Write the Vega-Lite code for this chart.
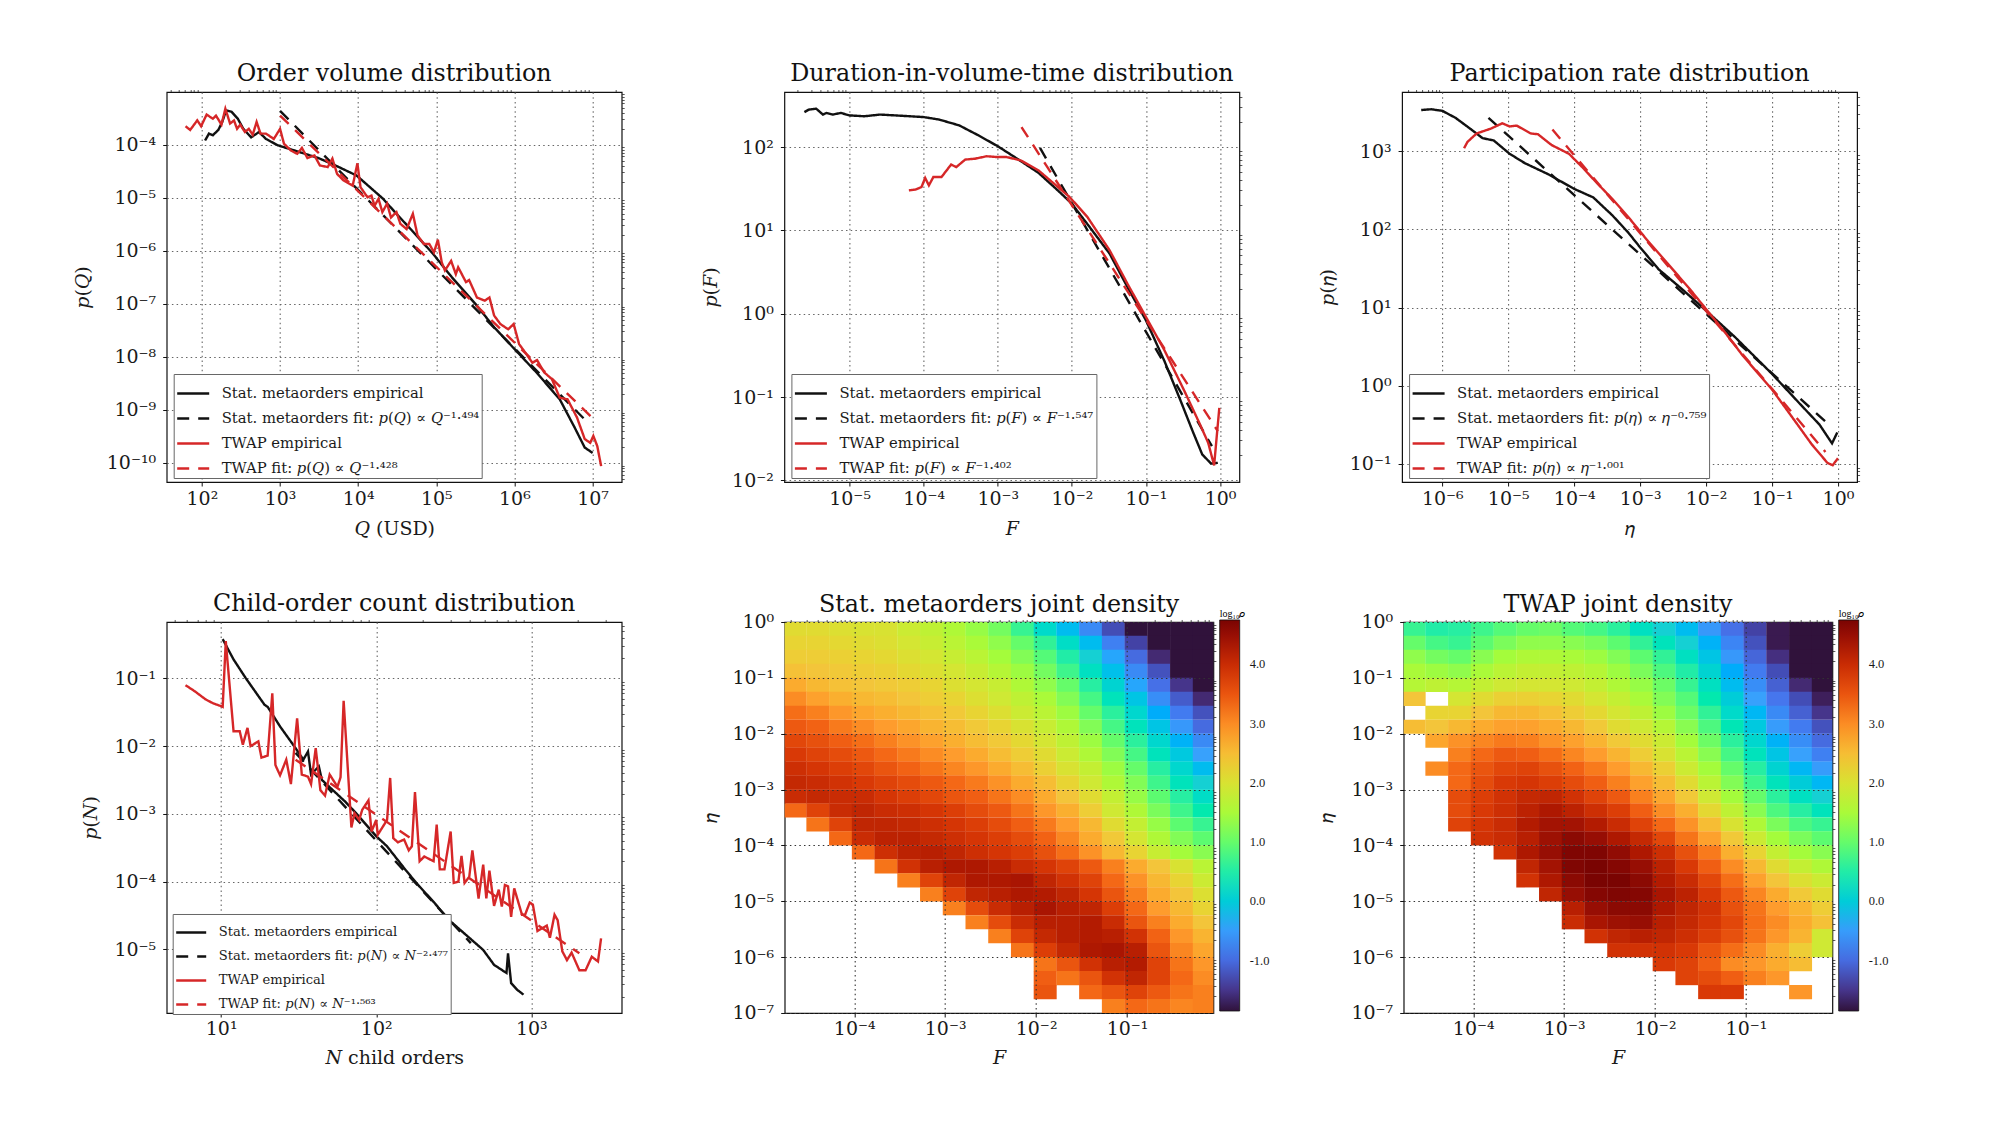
{
"$schema":"https://vega.github.io/schema/vega-lite/v6.json",
"autosize":"none",
"background":"white",
"padding":{"left":166.7,"top":92,"right":1823,"bottom":1048},
"config":{
"view":{"stroke":"#111","strokeWidth":1.2},
"title":{"font":"DejaVu Serif","fontSize":23.8,"fontWeight":"normal","offset":3.5,"color":"#111"},
"axis":{"labelFont":"DejaVu Serif","labelFontSize":19,"labelColor":"#1a1a1a","titleFont":"DejaVu Serif","titleFontSize":19,"titleFontWeight":"normal","titleColor":"#1a1a1a","domain":false,"tickColor":"#111","tickSize":4,"tickWidth":1,"labelFlush":false,"labelBound":false,"gridColor":"#666","gridDash":[1.5,3.2],"gridWidth":1.1},
"axisX":{"titleBaseline":"alphabetic","labelPadding":3},
"axisY":{"titleBaseline":"middle","labelPadding":7},
"legend":{"fillColor":"white","strokeColor":"#666","padding":2,"rowPadding":-0.5,"symbolType":"stroke","symbolSize":1024,"symbolStrokeWidth":2.6,"labelFont":"DejaVu Serif","labelFontSize":14.8,"labelColor":"#1a1a1a","labelLimit":400,"labelOffset":11,"zindex":1}
},
"bounds":"flush",
"spacing":530,
"resolve":{"scale":{"color":"independent","strokeDash":"independent"}},
"vconcat":[
{"bounds":"flush","spacing":162.7,"resolve":{"scale":{"color":"independent","strokeDash":"independent"}},"hconcat":[
{"width":455,"height":390,"title":"Order volume distribution","resolve":{"axis":{"x":"independent","y":"independent"}},"layer":[
{"data":{"values":[
{"s":"SE","x":2.04,"y":-3.92},{"s":"SE","x":2.09,"y":-3.79},{"s":"SE","x":2.14,"y":-3.82},{"s":"SE","x":2.21,"y":-3.72},{"s":"SE","x":2.26,"y":-3.57},{"s":"SE","x":2.31,"y":-3.35},{"s":"SE","x":2.38,"y":-3.38},{"s":"SE","x":2.46,"y":-3.51},{"s":"SE","x":2.53,"y":-3.7},{"s":"SE","x":2.63,"y":-3.86},{"s":"SE","x":2.73,"y":-3.76},{"s":"SE","x":2.82,"y":-3.89},{"s":"SE","x":2.97,"y":-4.01},{"s":"SE","x":3.19,"y":-4.11},{"s":"SE","x":3.49,"y":-4.25},{"s":"SE","x":3.68,"y":-4.37},{"s":"SE","x":3.98,"y":-4.58},{"s":"SE","x":4.15,"y":-4.8},{"s":"SE","x":4.32,"y":-5.02},{"s":"SE","x":4.47,"y":-5.27},{"s":"SE","x":4.69,"y":-5.62},{"s":"SE","x":4.96,"y":-6.06},{"s":"SE","x":5.2,"y":-6.5},{"s":"SE","x":5.5,"y":-7},{"s":"SE","x":5.74,"y":-7.44},{"s":"SE","x":6,"y":-7.85},{"s":"SE","x":6.28,"y":-8.29},{"s":"SE","x":6.58,"y":-8.8},{"s":"SE","x":6.77,"y":-9.33},{"s":"SE","x":6.9,"y":-9.71},{"s":"SE","x":7,"y":-9.81},
{"s":"SF","x":3,"y":-3.36},{"s":"SF","x":6.92,"y":-9.21},
{"s":"TE","x":1.79,"y":-3.65},{"s":"TE","x":1.85,"y":-3.72},{"s":"TE","x":1.94,"y":-3.54},{"s":"TE","x":1.99,"y":-3.65},{"s":"TE","x":2.06,"y":-3.43},{"s":"TE","x":2.14,"y":-3.51},{"s":"TE","x":2.18,"y":-3.45},{"s":"TE","x":2.25,"y":-3.62},{"s":"TE","x":2.3,"y":-3.32},{"s":"TE","x":2.36,"y":-3.6},{"s":"TE","x":2.41,"y":-3.54},{"s":"TE","x":2.45,"y":-3.7},{"s":"TE","x":2.49,"y":-3.62},{"s":"TE","x":2.55,"y":-3.76},{"s":"TE","x":2.6,"y":-3.7},{"s":"TE","x":2.65,"y":-3.81},{"s":"TE","x":2.7,"y":-3.57},{"s":"TE","x":2.75,"y":-3.79},{"s":"TE","x":2.82,"y":-3.79},{"s":"TE","x":2.92,"y":-3.89},{"s":"TE","x":3,"y":-3.7},{"s":"TE","x":3.05,"y":-3.98},{"s":"TE","x":3.14,"y":-4.11},{"s":"TE","x":3.22,"y":-4.17},{"s":"TE","x":3.28,"y":-4.06},{"s":"TE","x":3.35,"y":-4.25},{"s":"TE","x":3.44,"y":-4.2},{"s":"TE","x":3.51,"y":-4.39},{"s":"TE","x":3.61,"y":-4.42},{"s":"TE","x":3.67,"y":-4.26},{"s":"TE","x":3.73,"y":-4.55},{"s":"TE","x":3.81,"y":-4.67},{"s":"TE","x":3.93,"y":-4.77},{"s":"TE","x":3.99,"y":-4.35},{"s":"TE","x":4.03,"y":-4.8},{"s":"TE","x":4.12,"y":-4.99},{"s":"TE","x":4.17,"y":-4.96},{"s":"TE","x":4.21,"y":-5.15},{"s":"TE","x":4.26,"y":-5.02},{"s":"TE","x":4.31,"y":-5.27},{"s":"TE","x":4.37,"y":-5.11},{"s":"TE","x":4.42,"y":-5.37},{"s":"TE","x":4.49,"y":-5.27},{"s":"TE","x":4.54,"y":-5.49},{"s":"TE","x":4.62,"y":-5.59},{"s":"TE","x":4.7,"y":-5.3},{"s":"TE","x":4.76,"y":-5.71},{"s":"TE","x":4.84,"y":-5.87},{"s":"TE","x":4.91,"y":-5.87},{"s":"TE","x":4.97,"y":-6.03},{"s":"TE","x":5.02,"y":-5.79},{"s":"TE","x":5.07,"y":-6.22},{"s":"TE","x":5.11,"y":-6.37},{"s":"TE","x":5.19,"y":-6.19},{"s":"TE","x":5.25,"y":-6.44},{"s":"TE","x":5.28,"y":-6.31},{"s":"TE","x":5.38,"y":-6.59},{"s":"TE","x":5.42,"y":-6.55},{"s":"TE","x":5.52,"y":-6.88},{"s":"TE","x":5.62,"y":-6.94},{"s":"TE","x":5.68,"y":-6.88},{"s":"TE","x":5.74,"y":-7.22},{"s":"TE","x":5.82,"y":-7.38},{"s":"TE","x":5.92,"y":-7.48},{"s":"TE","x":5.99,"y":-7.38},{"s":"TE","x":6.06,"y":-7.76},{"s":"TE","x":6.14,"y":-7.92},{"s":"TE","x":6.23,"y":-8.11},{"s":"TE","x":6.29,"y":-8.06},{"s":"TE","x":6.38,"y":-8.29},{"s":"TE","x":6.48,"y":-8.42},{"s":"TE","x":6.58,"y":-8.77},{"s":"TE","x":6.68,"y":-8.8},{"s":"TE","x":6.8,"y":-9.14},{"s":"TE","x":6.9,"y":-9.55},{"s":"TE","x":6.97,"y":-9.62},{"s":"TE","x":7.01,"y":-9.49},{"s":"TE","x":7.06,"y":-9.68},{"s":"TE","x":7.11,"y":-10.06},
{"s":"TF","x":3,"y":-3.45},{"s":"TF","x":7.04,"y":-9.21}
]},
"mark":{"type":"line","strokeWidth":2.4},
"encoding":{
"x":{"field":"x","type":"quantitative","scale":{"domain":[1.549,7.373],"nice":false,"zero":false},"axis":{"values":[2,3,4,5,6,7],"grid":true,"title":"𝑄 (USD)","titleY":52,"labelExpr":"'10' + (datum.value<0?'⁻':'') + ['⁰','¹','²','³','⁴','⁵','⁶','⁷','⁸','⁹','¹⁰'][abs(datum.value)]"}},
"y":{"field":"y","type":"quantitative","scale":{"domain":[-10.359,-3.005],"nice":false,"zero":false},"axis":{"values":[-10,-9,-8,-7,-6,-5,-4],"grid":true,"title":"𝑝(𝑄)","titleX":-84,"labelExpr":"'10' + (datum.value<0?'⁻':'') + ['⁰','¹','²','³','⁴','⁵','⁶','⁷','⁸','⁹','¹⁰'][abs(datum.value)]"}},
"color":{"field":"s","type":"nominal","scale":{"domain":["SE","SF","TE","TF"],"range":["#111111","#111111","#d62728","#d62728"]},"legend":{"title":null,"orient":"none","legendX":7,"legendY":282,"labelExpr":"{'SE':'Stat. metaorders empirical','SF':'Stat. metaorders fit: 𝑝(𝑄) ∝ 𝑄⁻¹·⁴⁹⁴','TE':'TWAP empirical','TF':'TWAP fit: 𝑝(𝑄) ∝ 𝑄⁻¹·⁴²⁸'}[datum.label]"}},
"strokeDash":{"field":"s","type":"nominal","scale":{"domain":["SE","SF","TE","TF"],"range":[[1,0],[12,9],[1,0],[12,9]]}}
}},
{"data":{"values":[{"x":3,"y":-5}]},"mark":{"type":"point","opacity":0},"encoding":{
"x":{"field":"x","type":"quantitative","axis":{"values":[1.6,1.7,1.78,1.85,1.9,1.95,2.3,2.48,2.6,2.7,2.78,2.85,2.9,2.95,3.3,3.48,3.6,3.7,3.78,3.85,3.9,3.95,4.3,4.48,4.6,4.7,4.78,4.85,4.9,4.95,5.3,5.48,5.6,5.7,5.78,5.85,5.9,5.95,6.3,6.48,6.6,6.7,6.78,6.85,6.9,6.95,7.3],"labels":false,"grid":false,"title":null,"tickSize":2.5,"tickWidth":0.7}},
"y":{"field":"y","type":"quantitative","axis":{"values":[-10.3,-10.22,-10.15,-10.1,-10.05,-9.7,-9.52,-9.4,-9.3,-9.22,-9.15,-9.1,-9.05,-8.7,-8.52,-8.4,-8.3,-8.22,-8.15,-8.1,-8.05,-7.7,-7.52,-7.4,-7.3,-7.22,-7.15,-7.1,-7.05,-6.7,-6.52,-6.4,-6.3,-6.22,-6.15,-6.1,-6.05,-5.7,-5.52,-5.4,-5.3,-5.22,-5.15,-5.1,-5.05,-4.7,-4.52,-4.4,-4.3,-4.22,-4.15,-4.1,-4.05,-3.7,-3.52,-3.4,-3.3,-3.22,-3.15,-3.1,-3.05],"labels":false,"grid":false,"title":null,"tickSize":2.5,"tickWidth":0.7}}
}}
]},
{"width":455,"height":390,"title":"Duration-in-volume-time distribution","resolve":{"axis":{"x":"independent","y":"independent"}},"layer":[
{"data":{"values":[
{"s":"SE","x":-5.61,"y":2.42},{"s":"SE","x":-5.55,"y":2.45},{"s":"SE","x":-5.45,"y":2.46},{"s":"SE","x":-5.36,"y":2.39},{"s":"SE","x":-5.31,"y":2.41},{"s":"SE","x":-5.23,"y":2.39},{"s":"SE","x":-5.12,"y":2.41},{"s":"SE","x":-5,"y":2.38},{"s":"SE","x":-4.8,"y":2.37},{"s":"SE","x":-4.59,"y":2.39},{"s":"SE","x":-4.38,"y":2.38},{"s":"SE","x":-4,"y":2.36},{"s":"SE","x":-3.79,"y":2.33},{"s":"SE","x":-3.52,"y":2.26},{"s":"SE","x":-3.26,"y":2.14},{"s":"SE","x":-3,"y":2.01},{"s":"SE","x":-2.72,"y":1.85},{"s":"SE","x":-2.45,"y":1.69},{"s":"SE","x":-2.19,"y":1.48},{"s":"SE","x":-2,"y":1.32},{"s":"SE","x":-1.76,"y":1.04},{"s":"SE","x":-1.49,"y":0.72},{"s":"SE","x":-1.25,"y":0.32},{"s":"SE","x":-1,"y":-0.08},{"s":"SE","x":-0.75,"y":-0.57},{"s":"SE","x":-0.53,"y":-1.05},{"s":"SE","x":-0.37,"y":-1.41},{"s":"SE","x":-0.24,"y":-1.69},{"s":"SE","x":-0.12,"y":-1.8},{"s":"SE","x":-0.03,"y":-1.79},
{"s":"SF","x":-2.43,"y":1.99},{"s":"SF","x":-0.11,"y":-1.59},
{"s":"TE","x":-4.2,"y":1.48},{"s":"TE","x":-4.11,"y":1.49},{"s":"TE","x":-4.03,"y":1.52},{"s":"TE","x":-3.98,"y":1.63},{"s":"TE","x":-3.93,"y":1.54},{"s":"TE","x":-3.87,"y":1.64},{"s":"TE","x":-3.76,"y":1.64},{"s":"TE","x":-3.63,"y":1.79},{"s":"TE","x":-3.56,"y":1.76},{"s":"TE","x":-3.44,"y":1.85},{"s":"TE","x":-3.31,"y":1.86},{"s":"TE","x":-3.15,"y":1.89},{"s":"TE","x":-3.01,"y":1.88},{"s":"TE","x":-2.88,"y":1.88},{"s":"TE","x":-2.69,"y":1.84},{"s":"TE","x":-2.45,"y":1.72},{"s":"TE","x":-2.24,"y":1.56},{"s":"TE","x":-2.03,"y":1.4},{"s":"TE","x":-1.79,"y":1.16},{"s":"TE","x":-1.49,"y":0.76},{"s":"TE","x":-1.25,"y":0.36},{"s":"TE","x":-1,"y":-0.04},{"s":"TE","x":-0.75,"y":-0.44},{"s":"TE","x":-0.48,"y":-0.93},{"s":"TE","x":-0.27,"y":-1.33},{"s":"TE","x":-0.16,"y":-1.55},{"s":"TE","x":-0.08,"y":-1.82},{"s":"TE","x":-0.01,"y":-1.13},
{"s":"TF","x":-2.68,"y":2.24},{"s":"TF","x":-0.03,"y":-1.41}
]},
"mark":{"type":"line","strokeWidth":2.4},
"encoding":{
"x":{"field":"x","type":"quantitative","scale":{"domain":[-5.88,0.261],"nice":false,"zero":false},"axis":{"values":[-5,-4,-3,-2,-1,0],"grid":true,"title":"𝐹","titleY":52,"labelExpr":"'10' + (datum.value<0?'⁻':'') + ['⁰','¹','²','³','⁴','⁵','⁶','⁷','⁸','⁹','¹⁰'][abs(datum.value)]"}},
"y":{"field":"y","type":"quantitative","scale":{"domain":[-2.02,2.661],"nice":false,"zero":false},"axis":{"values":[-2,-1,0,1,2],"grid":true,"title":"𝑝(𝐹)","titleX":-74,"labelExpr":"'10' + (datum.value<0?'⁻':'') + ['⁰','¹','²','³','⁴','⁵','⁶','⁷','⁸','⁹','¹⁰'][abs(datum.value)]"}},
"color":{"field":"s","type":"nominal","scale":{"domain":["SE","SF","TE","TF"],"range":["#111111","#111111","#d62728","#d62728"]},"legend":{"title":null,"orient":"none","legendX":7,"legendY":282,"labelExpr":"{'SE':'Stat. metaorders empirical','SF':'Stat. metaorders fit: 𝑝(𝐹) ∝ 𝐹⁻¹·⁵⁴⁷','TE':'TWAP empirical','TF':'TWAP fit: 𝑝(𝐹) ∝ 𝐹⁻¹·⁴⁰²'}[datum.label]"}},
"strokeDash":{"field":"s","type":"nominal","scale":{"domain":["SE","SF","TE","TF"],"range":[[1,0],[12,9],[1,0],[12,9]]}}
}},
{"data":{"values":[{"x":-3,"y":0}]},"mark":{"type":"point","opacity":0},"encoding":{
"x":{"field":"x","type":"quantitative","axis":{"values":[-5.7,-5.52,-5.4,-5.3,-5.22,-5.15,-5.1,-5.05,-4.7,-4.52,-4.4,-4.3,-4.22,-4.15,-4.1,-4.05,-3.7,-3.52,-3.4,-3.3,-3.22,-3.15,-3.1,-3.05,-2.7,-2.52,-2.4,-2.3,-2.22,-2.15,-2.1,-2.05,-1.7,-1.52,-1.4,-1.3,-1.22,-1.15,-1.1,-1.05,-0.7,-0.52,-0.4,-0.3,-0.22,-0.15,-0.1,-0.05],"labels":false,"grid":false,"title":null,"tickSize":2.5,"tickWidth":0.7}},
"y":{"field":"y","type":"quantitative","axis":{"values":[-1.7,-1.52,-1.4,-1.3,-1.22,-1.15,-1.1,-1.05,-0.7,-0.52,-0.4,-0.3,-0.22,-0.15,-0.1,-0.05,0.3,0.48,0.6,0.7,0.78,0.85,0.9,0.95,1.3,1.48,1.6,1.7,1.78,1.85,1.9,1.95,2.3,2.48,2.6],"labels":false,"grid":false,"title":null,"tickSize":2.5,"tickWidth":0.7}}
}}
]},
{"width":455,"height":390,"title":"Participation rate distribution","resolve":{"axis":{"x":"independent","y":"independent"}},"layer":[
{"data":{"values":[
{"s":"SE","x":-6.32,"y":3.53},{"s":"SE","x":-6.17,"y":3.54},{"s":"SE","x":-6,"y":3.52},{"s":"SE","x":-5.8,"y":3.43},{"s":"SE","x":-5.56,"y":3.28},{"s":"SE","x":-5.39,"y":3.17},{"s":"SE","x":-5.22,"y":3.14},{"s":"SE","x":-4.98,"y":2.97},{"s":"SE","x":-4.75,"y":2.85},{"s":"SE","x":-4.4,"y":2.71},{"s":"SE","x":-4,"y":2.52},{"s":"SE","x":-3.71,"y":2.41},{"s":"SE","x":-3.42,"y":2.18},{"s":"SE","x":-3.18,"y":1.96},{"s":"SE","x":-3,"y":1.77},{"s":"SE","x":-2.72,"y":1.49},{"s":"SE","x":-2.37,"y":1.24},{"s":"SE","x":-2,"y":0.96},{"s":"SE","x":-1.56,"y":0.62},{"s":"SE","x":-1,"y":0.15},{"s":"SE","x":-0.57,"y":-0.24},{"s":"SE","x":-0.28,"y":-0.5},{"s":"SE","x":-0.09,"y":-0.74},{"s":"SE","x":-0.01,"y":-0.6},
{"s":"SF","x":-5.3,"y":3.43},{"s":"SF","x":-0.11,"y":-0.52},
{"s":"TE","x":-5.67,"y":3.04},{"s":"TE","x":-5.62,"y":3.12},{"s":"TE","x":-5.48,"y":3.23},{"s":"TE","x":-5.27,"y":3.29},{"s":"TE","x":-5.09,"y":3.36},{"s":"TE","x":-4.98,"y":3.32},{"s":"TE","x":-4.87,"y":3.33},{"s":"TE","x":-4.66,"y":3.23},{"s":"TE","x":-4.55,"y":3.22},{"s":"TE","x":-4.34,"y":3.08},{"s":"TE","x":-4.08,"y":2.97},{"s":"TE","x":-3.88,"y":2.8},{"s":"TE","x":-3.65,"y":2.59},{"s":"TE","x":-3.42,"y":2.39},{"s":"TE","x":-3.18,"y":2.16},{"s":"TE","x":-2.89,"y":1.86},{"s":"TE","x":-2.6,"y":1.58},{"s":"TE","x":-2.25,"y":1.24},{"s":"TE","x":-2,"y":0.98},{"s":"TE","x":-1.73,"y":0.7},{"s":"TE","x":-1.44,"y":0.38},{"s":"TE","x":-1,"y":-0.05},{"s":"TE","x":-0.69,"y":-0.41},{"s":"TE","x":-0.4,"y":-0.75},{"s":"TE","x":-0.16,"y":-0.99},{"s":"TE","x":-0.08,"y":-1.02},{"s":"TE","x":0,"y":-0.93},
{"s":"TF","x":-4.33,"y":3.28},{"s":"TF","x":-0.19,"y":-0.85}
]},
"mark":{"type":"line","strokeWidth":2.4},
"encoding":{
"x":{"field":"x","type":"quantitative","scale":{"domain":[-6.61,0.29],"nice":false,"zero":false},"axis":{"values":[-6,-5,-4,-3,-2,-1,0],"grid":true,"title":"𝜂","titleY":52,"labelExpr":"'10' + (datum.value<0?'⁻':'') + ['⁰','¹','²','³','⁴','⁵','⁶','⁷','⁸','⁹','¹⁰'][abs(datum.value)]"}},
"y":{"field":"y","type":"quantitative","scale":{"domain":[-1.235,3.761],"nice":false,"zero":false},"axis":{"values":[-1,0,1,2,3],"grid":true,"title":"𝑝(𝜂)","titleX":-75,"labelExpr":"'10' + (datum.value<0?'⁻':'') + ['⁰','¹','²','³','⁴','⁵','⁶','⁷','⁸','⁹','¹⁰'][abs(datum.value)]"}},
"color":{"field":"s","type":"nominal","scale":{"domain":["SE","SF","TE","TF"],"range":["#111111","#111111","#d62728","#d62728"]},"legend":{"title":null,"orient":"none","legendX":7,"legendY":282,"labelExpr":"{'SE':'Stat. metaorders empirical','SF':'Stat. metaorders fit: 𝑝(𝜂) ∝ 𝜂⁻⁰·⁷⁵⁹','TE':'TWAP empirical','TF':'TWAP fit: 𝑝(𝜂) ∝ 𝜂⁻¹·⁰⁰¹'}[datum.label]"}},
"strokeDash":{"field":"s","type":"nominal","scale":{"domain":["SE","SF","TE","TF"],"range":[[1,0],[12,9],[1,0],[12,9]]}}
}},
{"data":{"values":[{"x":-3,"y":1}]},"mark":{"type":"point","opacity":0},"encoding":{
"x":{"field":"x","type":"quantitative","axis":{"values":[-6.52,-6.4,-6.3,-6.22,-6.15,-6.1,-6.05,-5.7,-5.52,-5.4,-5.3,-5.22,-5.15,-5.1,-5.05,-4.7,-4.52,-4.4,-4.3,-4.22,-4.15,-4.1,-4.05,-3.7,-3.52,-3.4,-3.3,-3.22,-3.15,-3.1,-3.05,-2.7,-2.52,-2.4,-2.3,-2.22,-2.15,-2.1,-2.05,-1.7,-1.52,-1.4,-1.3,-1.22,-1.15,-1.1,-1.05,-0.7,-0.52,-0.4,-0.3,-0.22,-0.15,-0.1,-0.05],"labels":false,"grid":false,"title":null,"tickSize":2.5,"tickWidth":0.7}},
"y":{"field":"y","type":"quantitative","axis":{"values":[-1.22,-1.15,-1.1,-1.05,-0.7,-0.52,-0.4,-0.3,-0.22,-0.15,-0.1,-0.05,0.3,0.48,0.6,0.7,0.78,0.85,0.9,0.95,1.3,1.48,1.6,1.7,1.78,1.85,1.9,1.95,2.3,2.48,2.6,2.7,2.78,2.85,2.9,2.95,3.3,3.48,3.6,3.7],"labels":false,"grid":false,"title":null,"tickSize":2.5,"tickWidth":0.7}}
}}
]}
]},
{"bounds":"flush","spacing":10,"resolve":{"scale":{"color":"independent","strokeDash":"independent"}},"hconcat":[
{"width":455,"height":391,"title":"Child-order count distribution","resolve":{"axis":{"x":"independent","y":"independent"}},"layer":[
{"data":{"values":[
{"s":"SE","x":1.01,"y":-0.42},{"s":"SE","x":1.08,"y":-0.72},{"s":"SE","x":1.16,"y":-1},{"s":"SE","x":1.28,"y":-1.39},{"s":"SE","x":1.3,"y":-1.42},{"s":"SE","x":1.38,"y":-1.71},{"s":"SE","x":1.48,"y":-2.03},{"s":"SE","x":1.53,"y":-2.2},{"s":"SE","x":1.56,"y":-2.08},{"s":"SE","x":1.58,"y":-2.42},{"s":"SE","x":1.63,"y":-2.3},{"s":"SE","x":1.65,"y":-2.5},{"s":"SE","x":1.8,"y":-2.82},{"s":"SE","x":1.87,"y":-2.99},{"s":"SE","x":2,"y":-3.33},{"s":"SE","x":2.07,"y":-3.48},{"s":"SE","x":2.19,"y":-3.83},{"s":"SE","x":2.27,"y":-4.05},{"s":"SE","x":2.37,"y":-4.3},{"s":"SE","x":2.47,"y":-4.57},{"s":"SE","x":2.59,"y":-4.81},{"s":"SE","x":2.69,"y":-5.01},{"s":"SE","x":2.76,"y":-5.23},{"s":"SE","x":2.84,"y":-5.35},{"s":"SE","x":2.85,"y":-5.06},{"s":"SE","x":2.87,"y":-5.5},{"s":"SE","x":2.91,"y":-5.6},{"s":"SE","x":2.95,"y":-5.67},
{"s":"SF","x":1.48,"y":-2.1},{"s":"SF","x":2.61,"y":-4.91},
{"s":"TE","x":0.77,"y":-1.1},{"s":"TE","x":0.83,"y":-1.19},{"s":"TE","x":0.9,"y":-1.31},{"s":"TE","x":0.95,"y":-1.37},{"s":"TE","x":1,"y":-1.41},{"s":"TE","x":1.01,"y":-1.42},{"s":"TE","x":1.03,"y":-0.45},{"s":"TE","x":1.08,"y":-1.78},{"s":"TE","x":1.12,"y":-1.78},{"s":"TE","x":1.14,"y":-1.98},{"s":"TE","x":1.17,"y":-1.73},{"s":"TE","x":1.19,"y":-2},{"s":"TE","x":1.24,"y":-1.93},{"s":"TE","x":1.26,"y":-2.17},{"s":"TE","x":1.3,"y":-2.14},{"s":"TE","x":1.33,"y":-1.22},{"s":"TE","x":1.35,"y":-2.28},{"s":"TE","x":1.38,"y":-2.43},{"s":"TE","x":1.42,"y":-2.2},{"s":"TE","x":1.45,"y":-2.56},{"s":"TE","x":1.49,"y":-1.59},{"s":"TE","x":1.52,"y":-2.42},{"s":"TE","x":1.56,"y":-2.45},{"s":"TE","x":1.58,"y":-2.56},{"s":"TE","x":1.61,"y":-2.03},{"s":"TE","x":1.64,"y":-2.65},{"s":"TE","x":1.67,"y":-2.73},{"s":"TE","x":1.7,"y":-2.42},{"s":"TE","x":1.75,"y":-2.6},{"s":"TE","x":1.77,"y":-2.46},{"s":"TE","x":1.79,"y":-1.33},{"s":"TE","x":1.84,"y":-3.2},{"s":"TE","x":1.86,"y":-2.99},{"s":"TE","x":1.89,"y":-3.09},{"s":"TE","x":1.91,"y":-2.94},{"s":"TE","x":1.95,"y":-2.8},{"s":"TE","x":1.97,"y":-3.26},{"s":"TE","x":2,"y":-3.09},{"s":"TE","x":2.01,"y":-3.31},{"s":"TE","x":2.07,"y":-3.09},{"s":"TE","x":2.09,"y":-2.47},{"s":"TE","x":2.11,"y":-3.36},{"s":"TE","x":2.14,"y":-3.42},{"s":"TE","x":2.18,"y":-3.38},{"s":"TE","x":2.21,"y":-3.54},{"s":"TE","x":2.23,"y":-3.48},{"s":"TE","x":2.25,"y":-2.68},{"s":"TE","x":2.28,"y":-3.7},{"s":"TE","x":2.31,"y":-3.63},{"s":"TE","x":2.37,"y":-3.7},{"s":"TE","x":2.39,"y":-3.16},{"s":"TE","x":2.41,"y":-3.82},{"s":"TE","x":2.44,"y":-3.82},{"s":"TE","x":2.48,"y":-3.26},{"s":"TE","x":2.5,"y":-4.02},{"s":"TE","x":2.53,"y":-4},{"s":"TE","x":2.55,"y":-3.62},{"s":"TE","x":2.57,"y":-4.02},{"s":"TE","x":2.6,"y":-3.93},{"s":"TE","x":2.62,"y":-3.54},{"s":"TE","x":2.66,"y":-4.25},{"s":"TE","x":2.69,"y":-3.75},{"s":"TE","x":2.71,"y":-4.25},{"s":"TE","x":2.73,"y":-3.84},{"s":"TE","x":2.76,"y":-4.36},{"s":"TE","x":2.79,"y":-4.12},{"s":"TE","x":2.81,"y":-4.37},{"s":"TE","x":2.83,"y":-4.05},{"s":"TE","x":2.85,"y":-4.07},{"s":"TE","x":2.87,"y":-4.52},{"s":"TE","x":2.89,"y":-4.1},{"s":"TE","x":2.94,"y":-4.49},{"s":"TE","x":2.96,"y":-4.49},{"s":"TE","x":2.99,"y":-4.31},{"s":"TE","x":3.01,"y":-4.34},{"s":"TE","x":3.04,"y":-4.73},{"s":"TE","x":3.1,"y":-4.65},{"s":"TE","x":3.12,"y":-4.83},{"s":"TE","x":3.15,"y":-4.49},{"s":"TE","x":3.17,"y":-4.57},{"s":"TE","x":3.2,"y":-5.03},{"s":"TE","x":3.23,"y":-5.16},{"s":"TE","x":3.26,"y":-5.05},{"s":"TE","x":3.31,"y":-5.31},{"s":"TE","x":3.35,"y":-5.31},{"s":"TE","x":3.39,"y":-5.11},{"s":"TE","x":3.43,"y":-5.18},{"s":"TE","x":3.45,"y":-4.84},
{"s":"TF","x":1.48,"y":-2.2},{"s":"TF","x":3.31,"y":-5.06}
]},
"mark":{"type":"line","strokeWidth":2.4},
"encoding":{
"x":{"field":"x","type":"quantitative","scale":{"domain":[0.649,3.583],"nice":false,"zero":false},"axis":{"values":[1,2,3],"grid":true,"title":"𝑁 child orders","titleY":51,"labelExpr":"'10' + (datum.value<0?'⁻':'') + ['⁰','¹','²','³','⁴','⁵','⁶','⁷','⁸','⁹','¹⁰'][abs(datum.value)]"}},
"y":{"field":"y","type":"quantitative","scale":{"domain":[-5.941,-0.167],"nice":false,"zero":false},"axis":{"values":[-5,-4,-3,-2,-1],"grid":true,"title":"𝑝(𝑁)","titleX":-76,"labelExpr":"'10' + (datum.value<0?'⁻':'') + ['⁰','¹','²','³','⁴','⁵','⁶','⁷','⁸','⁹','¹⁰'][abs(datum.value)]"}},
"color":{"field":"s","type":"nominal","scale":{"domain":["SE","SF","TE","TF"],"range":["#111111","#111111","#d62728","#d62728"]},"legend":{"title":null,"orient":"none","legendX":6,"legendY":292,"labelFontSize":13.1,"symbolSize":900,"rowPadding":-3,"labelExpr":"{'SE':'Stat. metaorders empirical','SF':'Stat. metaorders fit: 𝑝(𝑁) ∝ 𝑁⁻²·⁴⁷⁷','TE':'TWAP empirical','TF':'TWAP fit: 𝑝(𝑁) ∝ 𝑁⁻¹·⁵⁶³'}[datum.label]"}},
"strokeDash":{"field":"s","type":"nominal","scale":{"domain":["SE","SF","TE","TF"],"range":[[1,0],[12,9],[1,0],[12,9]]}}
}},
{"data":{"values":[{"x":2,"y":-3}]},"mark":{"type":"point","opacity":0},"encoding":{
"x":{"field":"x","type":"quantitative","axis":{"values":[0.7,0.78,0.85,0.9,0.95,1.3,1.48,1.6,1.7,1.78,1.85,1.9,1.95,2.3,2.48,2.6,2.7,2.78,2.85,2.9,2.95,3.3,3.48],"labels":false,"grid":false,"title":null,"tickSize":2.5,"tickWidth":0.7}},
"y":{"field":"y","type":"quantitative","axis":{"values":[-5.7,-5.52,-5.4,-5.3,-5.22,-5.15,-5.1,-5.05,-4.7,-4.52,-4.4,-4.3,-4.22,-4.15,-4.1,-4.05,-3.7,-3.52,-3.4,-3.3,-3.22,-3.15,-3.1,-3.05,-2.7,-2.52,-2.4,-2.3,-2.22,-2.15,-2.1,-2.05,-1.7,-1.52,-1.4,-1.3,-1.22,-1.15,-1.1,-1.05,-0.7,-0.52,-0.4,-0.3,-0.22],"labels":false,"grid":false,"title":null,"tickSize":2.5,"tickWidth":0.7}}
}}
]},
{"width":142.4,"height":10,"view":{"stroke":null},"data":{"values":[{"x":0}]},"mark":{"type":"point","opacity":0}},
{"width":428.7,"height":391,"title":{"text":"Stat. metaorders joint density","offset":-8},"resolve":{"axis":{"x":"independent","y":"independent"}},"layer":[
{"data":{"values":[
{"f":-4.65,"e":-0.125,"v":2.1},{"f":-4.4,"e":-0.125,"v":2.1},{"f":-4.15,"e":-0.125,"v":2.05},{"f":-3.9,"e":-0.125,"v":2},{"f":-3.65,"e":-0.125,"v":2},{"f":-3.4,"e":-0.125,"v":1.85},{"f":-3.15,"e":-0.125,"v":1.7},{"f":-2.9,"e":-0.125,"v":1.55},{"f":-2.65,"e":-0.125,"v":1.35},{"f":-2.4,"e":-0.125,"v":1.1},{"f":-2.15,"e":-0.125,"v":0.7},{"f":-1.9,"e":-0.125,"v":0.2},{"f":-1.65,"e":-0.125,"v":-0.2},{"f":-1.4,"e":-0.125,"v":-0.7},{"f":-1.15,"e":-0.125,"v":-1.3},{"f":-0.9,"e":-0.125,"v":-1.85},{"f":-0.65,"e":-0.125,"v":-1.85},{"f":-0.4,"e":-0.125,"v":-1.85},{"f":-0.15,"e":-0.125,"v":-1.85},
{"f":-4.65,"e":-0.375,"v":2.2},{"f":-4.4,"e":-0.375,"v":2.2},{"f":-4.15,"e":-0.375,"v":2.15},{"f":-3.9,"e":-0.375,"v":2.1},{"f":-3.65,"e":-0.375,"v":2.05},{"f":-3.4,"e":-0.375,"v":1.95},{"f":-3.15,"e":-0.375,"v":1.8},{"f":-2.9,"e":-0.375,"v":1.65},{"f":-2.65,"e":-0.375,"v":1.5},{"f":-2.4,"e":-0.375,"v":1.3},{"f":-2.15,"e":-0.375,"v":1},{"f":-1.9,"e":-0.375,"v":0.65},{"f":-1.65,"e":-0.375,"v":0.25},{"f":-1.4,"e":-0.375,"v":-0.2},{"f":-1.15,"e":-0.375,"v":-0.8},{"f":-0.9,"e":-0.375,"v":-1.4},{"f":-0.65,"e":-0.375,"v":-1.85},{"f":-0.4,"e":-0.375,"v":-1.85},{"f":-0.15,"e":-0.375,"v":-1.85},
{"f":-4.65,"e":-0.625,"v":2.3},{"f":-4.4,"e":-0.625,"v":2.3},{"f":-4.15,"e":-0.625,"v":2.25},{"f":-3.9,"e":-0.625,"v":2.2},{"f":-3.65,"e":-0.625,"v":2.15},{"f":-3.4,"e":-0.625,"v":2.05},{"f":-3.15,"e":-0.625,"v":1.95},{"f":-2.9,"e":-0.625,"v":1.8},{"f":-2.65,"e":-0.625,"v":1.65},{"f":-2.4,"e":-0.625,"v":1.45},{"f":-2.15,"e":-0.625,"v":1.2},{"f":-1.9,"e":-0.625,"v":0.9},{"f":-1.65,"e":-0.625,"v":0.5},{"f":-1.4,"e":-0.625,"v":0.05},{"f":-1.15,"e":-0.625,"v":-0.4},{"f":-0.9,"e":-0.625,"v":-1},{"f":-0.65,"e":-0.625,"v":-1.6},{"f":-0.4,"e":-0.625,"v":-1.85},{"f":-0.15,"e":-0.625,"v":-1.85},
{"f":-4.65,"e":-0.875,"v":2.45},{"f":-4.4,"e":-0.875,"v":2.4},{"f":-4.15,"e":-0.875,"v":2.35},{"f":-3.9,"e":-0.875,"v":2.3},{"f":-3.65,"e":-0.875,"v":2.25},{"f":-3.4,"e":-0.875,"v":2.15},{"f":-3.15,"e":-0.875,"v":2.05},{"f":-2.9,"e":-0.875,"v":1.95},{"f":-2.65,"e":-0.875,"v":1.8},{"f":-2.4,"e":-0.875,"v":1.6},{"f":-2.15,"e":-0.875,"v":1.4},{"f":-1.9,"e":-0.875,"v":1.1},{"f":-1.65,"e":-0.875,"v":0.75},{"f":-1.4,"e":-0.875,"v":0.3},{"f":-1.15,"e":-0.875,"v":-0.15},{"f":-0.9,"e":-0.875,"v":-0.7},{"f":-0.65,"e":-0.875,"v":-1.25},{"f":-0.4,"e":-0.875,"v":-1.85},{"f":-0.15,"e":-0.875,"v":-1.85},
{"f":-4.65,"e":-1.125,"v":2.7},{"f":-4.4,"e":-1.125,"v":2.55},{"f":-4.15,"e":-1.125,"v":2.45},{"f":-3.9,"e":-1.125,"v":2.4},{"f":-3.65,"e":-1.125,"v":2.35},{"f":-3.4,"e":-1.125,"v":2.3},{"f":-3.15,"e":-1.125,"v":2.2},{"f":-2.9,"e":-1.125,"v":2.05},{"f":-2.65,"e":-1.125,"v":1.95},{"f":-2.4,"e":-1.125,"v":1.8},{"f":-2.15,"e":-1.125,"v":1.55},{"f":-1.9,"e":-1.125,"v":1.3},{"f":-1.65,"e":-1.125,"v":1},{"f":-1.4,"e":-1.125,"v":0.55},{"f":-1.15,"e":-1.125,"v":0.1},{"f":-0.9,"e":-1.125,"v":-0.4},{"f":-0.65,"e":-1.125,"v":-0.95},{"f":-0.4,"e":-1.125,"v":-1.5},{"f":-0.15,"e":-1.125,"v":-1.85},
{"f":-4.65,"e":-1.375,"v":3},{"f":-4.4,"e":-1.375,"v":2.8},{"f":-4.15,"e":-1.375,"v":2.65},{"f":-3.9,"e":-1.375,"v":2.55},{"f":-3.65,"e":-1.375,"v":2.5},{"f":-3.4,"e":-1.375,"v":2.4},{"f":-3.15,"e":-1.375,"v":2.3},{"f":-2.9,"e":-1.375,"v":2.2},{"f":-2.65,"e":-1.375,"v":2.05},{"f":-2.4,"e":-1.375,"v":1.9},{"f":-2.15,"e":-1.375,"v":1.7},{"f":-1.9,"e":-1.375,"v":1.5},{"f":-1.65,"e":-1.375,"v":1.2},{"f":-1.4,"e":-1.375,"v":0.8},{"f":-1.15,"e":-1.375,"v":0.35},{"f":-0.9,"e":-1.375,"v":-0.1},{"f":-0.65,"e":-1.375,"v":-0.65},{"f":-0.4,"e":-1.375,"v":-1.15},{"f":-0.15,"e":-1.375,"v":-1.6},
{"f":-4.65,"e":-1.625,"v":3.25},{"f":-4.4,"e":-1.625,"v":3.1},{"f":-4.15,"e":-1.625,"v":2.9},{"f":-3.9,"e":-1.625,"v":2.75},{"f":-3.65,"e":-1.625,"v":2.65},{"f":-3.4,"e":-1.625,"v":2.55},{"f":-3.15,"e":-1.625,"v":2.45},{"f":-2.9,"e":-1.625,"v":2.35},{"f":-2.65,"e":-1.625,"v":2.2},{"f":-2.4,"e":-1.625,"v":2.05},{"f":-2.15,"e":-1.625,"v":1.85},{"f":-1.9,"e":-1.625,"v":1.65},{"f":-1.65,"e":-1.625,"v":1.4},{"f":-1.4,"e":-1.625,"v":1},{"f":-1.15,"e":-1.625,"v":0.6},{"f":-0.9,"e":-1.625,"v":0.15},{"f":-0.65,"e":-1.625,"v":-0.35},{"f":-0.4,"e":-1.625,"v":-0.85},{"f":-0.15,"e":-1.625,"v":-1.25},
{"f":-4.65,"e":-1.875,"v":3.45},{"f":-4.4,"e":-1.875,"v":3.35},{"f":-4.15,"e":-1.875,"v":3.15},{"f":-3.9,"e":-1.875,"v":3},{"f":-3.65,"e":-1.875,"v":2.85},{"f":-3.4,"e":-1.875,"v":2.75},{"f":-3.15,"e":-1.875,"v":2.6},{"f":-2.9,"e":-1.875,"v":2.5},{"f":-2.65,"e":-1.875,"v":2.35},{"f":-2.4,"e":-1.875,"v":2.2},{"f":-2.15,"e":-1.875,"v":2},{"f":-1.9,"e":-1.875,"v":1.8},{"f":-1.65,"e":-1.875,"v":1.55},{"f":-1.4,"e":-1.875,"v":1.2},{"f":-1.15,"e":-1.875,"v":0.8},{"f":-0.9,"e":-1.875,"v":0.35},{"f":-0.65,"e":-1.875,"v":-0.1},{"f":-0.4,"e":-1.875,"v":-0.55},{"f":-0.15,"e":-1.875,"v":-1},
{"f":-4.65,"e":-2.125,"v":3.65},{"f":-4.4,"e":-2.125,"v":3.55},{"f":-4.15,"e":-2.125,"v":3.4},{"f":-3.9,"e":-2.125,"v":3.25},{"f":-3.65,"e":-2.125,"v":3.1},{"f":-3.4,"e":-2.125,"v":2.95},{"f":-3.15,"e":-2.125,"v":2.8},{"f":-2.9,"e":-2.125,"v":2.65},{"f":-2.65,"e":-2.125,"v":2.5},{"f":-2.4,"e":-2.125,"v":2.35},{"f":-2.15,"e":-2.125,"v":2.15},{"f":-1.9,"e":-2.125,"v":1.95},{"f":-1.65,"e":-2.125,"v":1.7},{"f":-1.4,"e":-2.125,"v":1.4},{"f":-1.15,"e":-2.125,"v":1},{"f":-0.9,"e":-2.125,"v":0.6},{"f":-0.65,"e":-2.125,"v":0.15},{"f":-0.4,"e":-2.125,"v":-0.3},{"f":-0.15,"e":-2.125,"v":-0.7},
{"f":-4.65,"e":-2.375,"v":3.8},{"f":-4.4,"e":-2.375,"v":3.7},{"f":-4.15,"e":-2.375,"v":3.6},{"f":-3.9,"e":-2.375,"v":3.45},{"f":-3.65,"e":-2.375,"v":3.3},{"f":-3.4,"e":-2.375,"v":3.15},{"f":-3.15,"e":-2.375,"v":3},{"f":-2.9,"e":-2.375,"v":2.85},{"f":-2.65,"e":-2.375,"v":2.7},{"f":-2.4,"e":-2.375,"v":2.5},{"f":-2.15,"e":-2.375,"v":2.3},{"f":-1.9,"e":-2.375,"v":2.1},{"f":-1.65,"e":-2.375,"v":1.85},{"f":-1.4,"e":-2.375,"v":1.55},{"f":-1.15,"e":-2.375,"v":1.2},{"f":-0.9,"e":-2.375,"v":0.8},{"f":-0.65,"e":-2.375,"v":0.35},{"f":-0.4,"e":-2.375,"v":-0.05},{"f":-0.15,"e":-2.375,"v":-0.45},
{"f":-4.65,"e":-2.625,"v":3.95},{"f":-4.4,"e":-2.625,"v":3.85},{"f":-4.15,"e":-2.625,"v":3.75},{"f":-3.9,"e":-2.625,"v":3.65},{"f":-3.65,"e":-2.625,"v":3.5},{"f":-3.4,"e":-2.625,"v":3.35},{"f":-3.15,"e":-2.625,"v":3.2},{"f":-2.9,"e":-2.625,"v":3.05},{"f":-2.65,"e":-2.625,"v":2.9},{"f":-2.4,"e":-2.625,"v":2.7},{"f":-2.15,"e":-2.625,"v":2.5},{"f":-1.9,"e":-2.625,"v":2.25},{"f":-1.65,"e":-2.625,"v":2},{"f":-1.4,"e":-2.625,"v":1.75},{"f":-1.15,"e":-2.625,"v":1.4},{"f":-0.9,"e":-2.625,"v":1},{"f":-0.65,"e":-2.625,"v":0.55},{"f":-0.4,"e":-2.625,"v":0.15},{"f":-0.15,"e":-2.625,"v":-0.2},
{"f":-4.65,"e":-2.875,"v":4.05},{"f":-4.4,"e":-2.875,"v":4},{"f":-4.15,"e":-2.875,"v":3.9},{"f":-3.9,"e":-2.875,"v":3.8},{"f":-3.65,"e":-2.875,"v":3.7},{"f":-3.4,"e":-2.875,"v":3.6},{"f":-3.15,"e":-2.875,"v":3.45},{"f":-2.9,"e":-2.875,"v":3.3},{"f":-2.65,"e":-2.875,"v":3.15},{"f":-2.4,"e":-2.875,"v":2.95},{"f":-2.15,"e":-2.875,"v":2.7},{"f":-1.9,"e":-2.875,"v":2.5},{"f":-1.65,"e":-2.875,"v":2.2},{"f":-1.4,"e":-2.875,"v":1.9},{"f":-1.15,"e":-2.875,"v":1.55},{"f":-0.9,"e":-2.875,"v":1.2},{"f":-0.65,"e":-2.875,"v":0.75},{"f":-0.4,"e":-2.875,"v":0.35},{"f":-0.15,"e":-2.875,"v":0.05},
{"f":-4.65,"e":-3.125,"v":4},{"f":-4.4,"e":-3.125,"v":4.05},{"f":-4.15,"e":-3.125,"v":4},{"f":-3.9,"e":-3.125,"v":4},{"f":-3.65,"e":-3.125,"v":3.85},{"f":-3.4,"e":-3.125,"v":3.75},{"f":-3.15,"e":-3.125,"v":3.65},{"f":-2.9,"e":-3.125,"v":3.5},{"f":-2.65,"e":-3.125,"v":3.4},{"f":-2.4,"e":-3.125,"v":3.2},{"f":-2.15,"e":-3.125,"v":3},{"f":-1.9,"e":-3.125,"v":2.7},{"f":-1.65,"e":-3.125,"v":2.4},{"f":-1.4,"e":-3.125,"v":2.1},{"f":-1.15,"e":-3.125,"v":1.75},{"f":-0.9,"e":-3.125,"v":1.35},{"f":-0.65,"e":-3.125,"v":0.95},{"f":-0.4,"e":-3.125,"v":0.55},{"f":-0.15,"e":-3.125,"v":0.25},
{"f":-4.65,"e":-3.375,"v":3.3},{"f":-4.4,"e":-3.375,"v":3.7},{"f":-4.15,"e":-3.375,"v":4},{"f":-3.9,"e":-3.375,"v":4.1},{"f":-3.65,"e":-3.375,"v":4},{"f":-3.4,"e":-3.375,"v":3.95},{"f":-3.15,"e":-3.375,"v":3.85},{"f":-2.9,"e":-3.375,"v":3.75},{"f":-2.65,"e":-3.375,"v":3.6},{"f":-2.4,"e":-3.375,"v":3.45},{"f":-2.15,"e":-3.375,"v":3.2},{"f":-1.9,"e":-3.375,"v":2.9},{"f":-1.65,"e":-3.375,"v":2.65},{"f":-1.4,"e":-3.375,"v":2.3},{"f":-1.15,"e":-3.375,"v":1.9},{"f":-0.9,"e":-3.375,"v":1.55},{"f":-0.65,"e":-3.375,"v":1.15},{"f":-0.4,"e":-3.375,"v":0.75},{"f":-0.15,"e":-3.375,"v":0.45},
{"f":-4.4,"e":-3.625,"v":3.2},{"f":-4.15,"e":-3.625,"v":3.7},{"f":-3.9,"e":-3.625,"v":4.1},{"f":-3.65,"e":-3.625,"v":4.1},{"f":-3.4,"e":-3.625,"v":4.05},{"f":-3.15,"e":-3.625,"v":3.95},{"f":-2.9,"e":-3.625,"v":3.85},{"f":-2.65,"e":-3.625,"v":3.75},{"f":-2.4,"e":-3.625,"v":3.6},{"f":-2.15,"e":-3.625,"v":3.4},{"f":-1.9,"e":-3.625,"v":3.15},{"f":-1.65,"e":-3.625,"v":2.85},{"f":-1.4,"e":-3.625,"v":2.55},{"f":-1.15,"e":-3.625,"v":2.1},{"f":-0.9,"e":-3.625,"v":1.75},{"f":-0.65,"e":-3.625,"v":1.35},{"f":-0.4,"e":-3.625,"v":0.95},{"f":-0.15,"e":-3.625,"v":0.7},
{"f":-4.15,"e":-3.875,"v":3.3},{"f":-3.9,"e":-3.875,"v":4},{"f":-3.65,"e":-3.875,"v":4.15},{"f":-3.4,"e":-3.875,"v":4.15},{"f":-3.15,"e":-3.875,"v":4.05},{"f":-2.9,"e":-3.875,"v":3.95},{"f":-2.65,"e":-3.875,"v":3.85},{"f":-2.4,"e":-3.875,"v":3.75},{"f":-2.15,"e":-3.875,"v":3.6},{"f":-1.9,"e":-3.875,"v":3.35},{"f":-1.65,"e":-3.875,"v":3.05},{"f":-1.4,"e":-3.875,"v":2.7},{"f":-1.15,"e":-3.875,"v":2.35},{"f":-0.9,"e":-3.875,"v":1.95},{"f":-0.65,"e":-3.875,"v":1.55},{"f":-0.4,"e":-3.875,"v":1.2},{"f":-0.15,"e":-3.875,"v":0.95},
{"f":-3.9,"e":-4.125,"v":3.3},{"f":-3.65,"e":-4.125,"v":3.95},{"f":-3.4,"e":-4.125,"v":4.15},{"f":-3.15,"e":-4.125,"v":4.2},{"f":-2.9,"e":-4.125,"v":4.1},{"f":-2.65,"e":-4.125,"v":3.95},{"f":-2.4,"e":-4.125,"v":3.85},{"f":-2.15,"e":-4.125,"v":3.75},{"f":-1.9,"e":-4.125,"v":3.55},{"f":-1.65,"e":-4.125,"v":3.25},{"f":-1.4,"e":-4.125,"v":2.95},{"f":-1.15,"e":-4.125,"v":2.55},{"f":-0.9,"e":-4.125,"v":2.2},{"f":-0.65,"e":-4.125,"v":1.8},{"f":-0.4,"e":-4.125,"v":1.45},{"f":-0.15,"e":-4.125,"v":1.25},
{"f":-3.65,"e":-4.375,"v":3.2},{"f":-3.4,"e":-4.375,"v":3.9},{"f":-3.15,"e":-4.375,"v":4.2},{"f":-2.9,"e":-4.375,"v":4.3},{"f":-2.65,"e":-4.375,"v":4.3},{"f":-2.4,"e":-4.375,"v":4.2},{"f":-2.15,"e":-4.375,"v":4},{"f":-1.9,"e":-4.375,"v":3.85},{"f":-1.65,"e":-4.375,"v":3.7},{"f":-1.4,"e":-4.375,"v":3.45},{"f":-1.15,"e":-4.375,"v":3.1},{"f":-0.9,"e":-4.375,"v":2.7},{"f":-0.65,"e":-4.375,"v":2.4},{"f":-0.4,"e":-4.375,"v":2},{"f":-0.15,"e":-4.375,"v":1.65},
{"f":-3.4,"e":-4.625,"v":3.1},{"f":-3.15,"e":-4.625,"v":3.7},{"f":-2.9,"e":-4.625,"v":4.1},{"f":-2.65,"e":-4.625,"v":4.3},{"f":-2.4,"e":-4.625,"v":4.3},{"f":-2.15,"e":-4.625,"v":4.35},{"f":-1.9,"e":-4.625,"v":4.1},{"f":-1.65,"e":-4.625,"v":3.9},{"f":-1.4,"e":-4.625,"v":3.7},{"f":-1.15,"e":-4.625,"v":3.3},{"f":-0.9,"e":-4.625,"v":2.95},{"f":-0.65,"e":-4.625,"v":2.55},{"f":-0.4,"e":-4.625,"v":2.2},{"f":-0.15,"e":-4.625,"v":1.85},
{"f":-3.15,"e":-4.875,"v":3.1},{"f":-2.9,"e":-4.875,"v":3.7},{"f":-2.65,"e":-4.875,"v":4.1},{"f":-2.4,"e":-4.875,"v":4.2},{"f":-2.15,"e":-4.875,"v":4.3},{"f":-1.9,"e":-4.875,"v":4.25},{"f":-1.65,"e":-4.875,"v":4.1},{"f":-1.4,"e":-4.875,"v":3.85},{"f":-1.15,"e":-4.875,"v":3.5},{"f":-0.9,"e":-4.875,"v":3.1},{"f":-0.65,"e":-4.875,"v":2.7},{"f":-0.4,"e":-4.875,"v":2.4},{"f":-0.15,"e":-4.875,"v":2.05},
{"f":-2.9,"e":-5.125,"v":3.1},{"f":-2.65,"e":-5.125,"v":3.6},{"f":-2.4,"e":-5.125,"v":4},{"f":-2.15,"e":-5.125,"v":4.2},{"f":-1.9,"e":-5.125,"v":4.35},{"f":-1.65,"e":-5.125,"v":4.2},{"f":-1.4,"e":-5.125,"v":4.1},{"f":-1.15,"e":-5.125,"v":3.75},{"f":-0.9,"e":-5.125,"v":3.3},{"f":-0.65,"e":-5.125,"v":2.85},{"f":-0.4,"e":-5.125,"v":2.55},{"f":-0.15,"e":-5.125,"v":2.2},
{"f":-2.65,"e":-5.375,"v":3.1},{"f":-2.4,"e":-5.375,"v":3.6},{"f":-2.15,"e":-5.375,"v":4},{"f":-1.9,"e":-5.375,"v":4.2},{"f":-1.65,"e":-5.375,"v":4.2},{"f":-1.4,"e":-5.375,"v":4.25},{"f":-1.15,"e":-5.375,"v":4},{"f":-0.9,"e":-5.375,"v":3.5},{"f":-0.65,"e":-5.375,"v":3.1},{"f":-0.4,"e":-5.375,"v":2.7},{"f":-0.15,"e":-5.375,"v":2.4},
{"f":-2.4,"e":-5.625,"v":3.1},{"f":-2.15,"e":-5.625,"v":3.7},{"f":-1.9,"e":-5.625,"v":4.05},{"f":-1.65,"e":-5.625,"v":4.2},{"f":-1.4,"e":-5.625,"v":4.25},{"f":-1.15,"e":-5.625,"v":4.2},{"f":-0.9,"e":-5.625,"v":3.9},{"f":-0.65,"e":-5.625,"v":3.35},{"f":-0.4,"e":-5.625,"v":2.9},{"f":-0.15,"e":-5.625,"v":2.6},
{"f":-2.15,"e":-5.875,"v":3.2},{"f":-1.9,"e":-5.875,"v":3.75},{"f":-1.65,"e":-5.875,"v":4.05},{"f":-1.4,"e":-5.875,"v":4.3},{"f":-1.15,"e":-5.875,"v":4.35},{"f":-0.9,"e":-5.875,"v":4.2},{"f":-0.65,"e":-5.875,"v":3.5},{"f":-0.4,"e":-5.875,"v":3.05},{"f":-0.15,"e":-5.875,"v":2.75},
{"f":-1.9,"e":-6.125,"v":3.2},{"f":-1.65,"e":-6.125,"v":3.5},{"f":-1.4,"e":-6.125,"v":3.9},{"f":-1.15,"e":-6.125,"v":4.2},{"f":-0.9,"e":-6.125,"v":4.25},{"f":-0.65,"e":-6.125,"v":3.7},{"f":-0.4,"e":-6.125,"v":3.2},{"f":-0.15,"e":-6.125,"v":2.9},
{"f":-1.9,"e":-6.375,"v":3.4},{"f":-1.65,"e":-6.375,"v":3.2},{"f":-1.4,"e":-6.375,"v":3.5},{"f":-1.15,"e":-6.375,"v":3.9},{"f":-0.9,"e":-6.375,"v":4.1},{"f":-0.65,"e":-6.375,"v":3.7},{"f":-0.4,"e":-6.375,"v":3.3},{"f":-0.15,"e":-6.375,"v":3},
{"f":-1.9,"e":-6.625,"v":3.5},{"f":-1.4,"e":-6.625,"v":3.3},{"f":-1.15,"e":-6.625,"v":3.5},{"f":-0.9,"e":-6.625,"v":3.7},{"f":-0.65,"e":-6.625,"v":3.45},{"f":-0.4,"e":-6.625,"v":3.2},{"f":-0.15,"e":-6.625,"v":3.1},
{"f":-1.15,"e":-6.875,"v":3.1},{"f":-0.9,"e":-6.875,"v":3.3},{"f":-0.65,"e":-6.875,"v":3.2},{"f":-0.4,"e":-6.875,"v":3.05},{"f":-0.15,"e":-6.875,"v":3.1}
]},
"mark":{"type":"rect","width":23,"height":14.2,"clip":true},
"encoding":{
"x":{"field":"f","type":"quantitative","scale":{"domain":[-4.765,-0.05],"nice":false,"zero":false},"axis":{"values":[-4,-3,-2,-1],"grid":true,"zindex":1,"gridColor":"#333","title":"𝐹","titleY":51,"labelExpr":"'10' + (datum.value<0?'⁻':'') + ['⁰','¹','²','³','⁴','⁵','⁶','⁷','⁸','⁹','¹⁰'][abs(datum.value)]"}},
"y":{"field":"e","type":"quantitative","scale":{"domain":[-7,0],"nice":false,"zero":false},"axis":{"values":[-7,-6,-5,-4,-3,-2,-1,0],"grid":true,"zindex":1,"gridColor":"#333","title":"𝜂","titleX":-74,"labelExpr":"'10' + (datum.value<0?'⁻':'') + ['⁰','¹','²','³','⁴','⁵','⁶','⁷','⁸','⁹','¹⁰'][abs(datum.value)]"}},
"color":{"field":"v","type":"quantitative","scale":{"domain":[-1.85,4.75],"range":["#30123b","#4145ab","#4675ed","#39a2fc","#1bcfd4","#24eca6","#61fc6c","#a4fc3b","#d1e834","#f3c63a","#fe9b2d","#f36315","#d93806","#b11901","#7a0402"]},"legend":{"title":"log₁₀𝜌","titleFont":"Liberation Serif","titleFontSize":10,"titleFontWeight":"normal","titlePadding":1,"titleLimit":200,"orient":"none","legendX":435,"legendY":-13,"padding":0,"fillColor":"transparent","strokeColor":"transparent","gradientLength":391,"gradientThickness":20,"gradientStrokeColor":"#111","gradientStrokeWidth":0.8,"values":[-1,0,1,2,3,4],"labelFont":"Liberation Serif","labelFontSize":12.5,"labelOffset":10,"labelExpr":"replace(format(datum.value,'.1f'),'−','-')"}}
}},
{"data":{"values":[{"f":-2,"e":-3}]},"mark":{"type":"point","opacity":0},"encoding":{
"x":{"field":"f","type":"quantitative","axis":{"values":[-4.7,-4.52,-4.4,-4.3,-4.22,-4.15,-4.1,-4.05,-3.7,-3.52,-3.4,-3.3,-3.22,-3.15,-3.1,-3.05,-2.7,-2.52,-2.4,-2.3,-2.22,-2.15,-2.1,-2.05,-1.7,-1.52,-1.4,-1.3,-1.22,-1.15,-1.1,-1.05,-0.7,-0.52,-0.4,-0.3,-0.22,-0.15,-0.1],"labels":false,"grid":false,"title":null,"tickSize":2.5,"tickWidth":0.7}},
"y":{"field":"e","type":"quantitative","axis":{"values":[-6.7,-6.52,-6.4,-6.3,-6.22,-6.15,-6.1,-6.05,-5.7,-5.52,-5.4,-5.3,-5.22,-5.15,-5.1,-5.05,-4.7,-4.52,-4.4,-4.3,-4.22,-4.15,-4.1,-4.05,-3.7,-3.52,-3.4,-3.3,-3.22,-3.15,-3.1,-3.05,-2.7,-2.52,-2.4,-2.3,-2.22,-2.15,-2.1,-2.05,-1.7,-1.52,-1.4,-1.3,-1.22,-1.15,-1.1,-1.05,-0.7,-0.52,-0.4,-0.3,-0.22,-0.15,-0.1,-0.05],"labels":false,"grid":false,"title":null,"tickSize":2.5,"tickWidth":0.7}}
}}
]},
{"width":170,"height":10,"view":{"stroke":null},"data":{"values":[{"x":0}]},"mark":{"type":"point","opacity":0}},
{"width":428.7,"height":391,"title":{"text":"TWAP joint density","offset":-8},"resolve":{"axis":{"x":"independent","y":"independent"}},"layer":[
{"data":{"values":[
{"f":-4.65,"e":-0.125,"v":0.7},{"f":-4.4,"e":-0.125,"v":0.5},{"f":-4.15,"e":-0.125,"v":0.55},{"f":-3.9,"e":-0.125,"v":0.75},{"f":-3.65,"e":-0.125,"v":0.9},{"f":-3.4,"e":-0.125,"v":1},{"f":-3.15,"e":-0.125,"v":1.05},{"f":-2.9,"e":-0.125,"v":0.9},{"f":-2.65,"e":-0.125,"v":0.8},{"f":-2.4,"e":-0.125,"v":0.6},{"f":-2.15,"e":-0.125,"v":0.3},{"f":-1.9,"e":-0.125,"v":0.05},{"f":-1.65,"e":-0.125,"v":-0.2},{"f":-1.4,"e":-0.125,"v":-0.55},{"f":-1.15,"e":-0.125,"v":-0.95},{"f":-0.9,"e":-0.125,"v":-1.4},{"f":-0.65,"e":-0.125,"v":-1.75},{"f":-0.4,"e":-0.125,"v":-1.85},{"f":-0.15,"e":-0.125,"v":-1.85},
{"f":-4.65,"e":-0.375,"v":1},{"f":-4.4,"e":-0.375,"v":0.8},{"f":-4.15,"e":-0.375,"v":0.7},{"f":-3.9,"e":-0.375,"v":0.95},{"f":-3.65,"e":-0.375,"v":1.15},{"f":-3.4,"e":-0.375,"v":1.3},{"f":-3.15,"e":-0.375,"v":1.3},{"f":-2.9,"e":-0.375,"v":1.25},{"f":-2.65,"e":-0.375,"v":1.15},{"f":-2.4,"e":-0.375,"v":0.95},{"f":-2.15,"e":-0.375,"v":0.65},{"f":-1.9,"e":-0.375,"v":0.35},{"f":-1.65,"e":-0.375,"v":0.05},{"f":-1.4,"e":-0.375,"v":-0.3},{"f":-1.15,"e":-0.375,"v":-0.75},{"f":-0.9,"e":-0.375,"v":-1.25},{"f":-0.65,"e":-0.375,"v":-1.75},{"f":-0.4,"e":-0.375,"v":-1.85},{"f":-0.15,"e":-0.375,"v":-1.85},
{"f":-4.65,"e":-0.625,"v":1.3},{"f":-4.4,"e":-0.625,"v":1.1},{"f":-4.15,"e":-0.625,"v":1},{"f":-3.9,"e":-0.625,"v":1.25},{"f":-3.65,"e":-0.625,"v":1.45},{"f":-3.4,"e":-0.625,"v":1.55},{"f":-3.15,"e":-0.625,"v":1.55},{"f":-2.9,"e":-0.625,"v":1.5},{"f":-2.65,"e":-0.625,"v":1.4},{"f":-2.4,"e":-0.625,"v":1.2},{"f":-2.15,"e":-0.625,"v":0.95},{"f":-1.9,"e":-0.625,"v":0.65},{"f":-1.65,"e":-0.625,"v":0.3},{"f":-1.4,"e":-0.625,"v":-0.1},{"f":-1.15,"e":-0.625,"v":-0.55},{"f":-0.9,"e":-0.625,"v":-1.05},{"f":-0.65,"e":-0.625,"v":-1.55},{"f":-0.4,"e":-0.625,"v":-1.85},{"f":-0.15,"e":-0.625,"v":-1.85},
{"f":-4.65,"e":-0.875,"v":1.5},{"f":-4.4,"e":-0.875,"v":1.4},{"f":-4.15,"e":-0.875,"v":1.3},{"f":-3.9,"e":-0.875,"v":1.5},{"f":-3.65,"e":-0.875,"v":1.65},{"f":-3.4,"e":-0.875,"v":1.75},{"f":-3.15,"e":-0.875,"v":1.75},{"f":-2.9,"e":-0.875,"v":1.7},{"f":-2.65,"e":-0.875,"v":1.6},{"f":-2.4,"e":-0.875,"v":1.4},{"f":-2.15,"e":-0.875,"v":1.15},{"f":-1.9,"e":-0.875,"v":0.85},{"f":-1.65,"e":-0.875,"v":0.5},{"f":-1.4,"e":-0.875,"v":0.1},{"f":-1.15,"e":-0.875,"v":-0.35},{"f":-0.9,"e":-0.875,"v":-0.85},{"f":-0.65,"e":-0.875,"v":-1.3},{"f":-0.4,"e":-0.875,"v":-1.85},{"f":-0.15,"e":-0.875,"v":-1.85},
{"f":-4.65,"e":-1.125,"v":1.6},{"f":-4.4,"e":-1.125,"v":1.7},{"f":-4.15,"e":-1.125,"v":1.6},{"f":-3.9,"e":-1.125,"v":1.75},{"f":-3.65,"e":-1.125,"v":1.9},{"f":-3.4,"e":-1.125,"v":1.95},{"f":-3.15,"e":-1.125,"v":1.95},{"f":-2.9,"e":-1.125,"v":1.9},{"f":-2.65,"e":-1.125,"v":1.75},{"f":-2.4,"e":-1.125,"v":1.55},{"f":-2.15,"e":-1.125,"v":1.35},{"f":-1.9,"e":-1.125,"v":1.05},{"f":-1.65,"e":-1.125,"v":0.7},{"f":-1.4,"e":-1.125,"v":0.3},{"f":-1.15,"e":-1.125,"v":-0.2},{"f":-0.9,"e":-1.125,"v":-0.65},{"f":-0.65,"e":-1.125,"v":-1.1},{"f":-0.4,"e":-1.125,"v":-1.6},{"f":-0.15,"e":-1.125,"v":-1.85},
{"f":-4.65,"e":-1.375,"v":2.4},{"f":-4.15,"e":-1.375,"v":1.95},{"f":-3.9,"e":-1.375,"v":2.1},{"f":-3.65,"e":-1.375,"v":2.25},{"f":-3.4,"e":-1.375,"v":2.25},{"f":-3.15,"e":-1.375,"v":2.2},{"f":-2.9,"e":-1.375,"v":2.1},{"f":-2.65,"e":-1.375,"v":1.95},{"f":-2.4,"e":-1.375,"v":1.75},{"f":-2.15,"e":-1.375,"v":1.5},{"f":-1.9,"e":-1.375,"v":1.2},{"f":-1.65,"e":-1.375,"v":0.9},{"f":-1.4,"e":-1.375,"v":0.45},{"f":-1.15,"e":-1.375,"v":0},{"f":-0.9,"e":-1.375,"v":-0.45},{"f":-0.65,"e":-1.375,"v":-0.9},{"f":-0.4,"e":-1.375,"v":-1.3},{"f":-0.15,"e":-1.375,"v":-1.7},
{"f":-4.4,"e":-1.625,"v":2.2},{"f":-4.15,"e":-1.625,"v":2.2},{"f":-3.9,"e":-1.625,"v":2.4},{"f":-3.65,"e":-1.625,"v":2.55},{"f":-3.4,"e":-1.625,"v":2.55},{"f":-3.15,"e":-1.625,"v":2.45},{"f":-2.9,"e":-1.625,"v":2.3},{"f":-2.65,"e":-1.625,"v":2.15},{"f":-2.4,"e":-1.625,"v":1.95},{"f":-2.15,"e":-1.625,"v":1.7},{"f":-1.9,"e":-1.625,"v":1.4},{"f":-1.65,"e":-1.625,"v":1.05},{"f":-1.4,"e":-1.625,"v":0.65},{"f":-1.15,"e":-1.625,"v":0.2},{"f":-0.9,"e":-1.625,"v":-0.25},{"f":-0.65,"e":-1.625,"v":-0.7},{"f":-0.4,"e":-1.625,"v":-1.1},{"f":-0.15,"e":-1.625,"v":-1.5},
{"f":-4.65,"e":-1.875,"v":2.5},{"f":-4.4,"e":-1.875,"v":2.4},{"f":-4.15,"e":-1.875,"v":2.55},{"f":-3.9,"e":-1.875,"v":2.7},{"f":-3.65,"e":-1.875,"v":2.8},{"f":-3.4,"e":-1.875,"v":2.8},{"f":-3.15,"e":-1.875,"v":2.7},{"f":-2.9,"e":-1.875,"v":2.55},{"f":-2.65,"e":-1.875,"v":2.35},{"f":-2.4,"e":-1.875,"v":2.1},{"f":-2.15,"e":-1.875,"v":1.9},{"f":-1.9,"e":-1.875,"v":1.6},{"f":-1.65,"e":-1.875,"v":1.25},{"f":-1.4,"e":-1.875,"v":0.85},{"f":-1.15,"e":-1.875,"v":0.4},{"f":-0.9,"e":-1.875,"v":-0.05},{"f":-0.65,"e":-1.875,"v":-0.5},{"f":-0.4,"e":-1.875,"v":-0.85},{"f":-0.15,"e":-1.875,"v":-1.25},
{"f":-4.4,"e":-2.125,"v":2.75},{"f":-4.15,"e":-2.125,"v":2.95},{"f":-3.9,"e":-2.125,"v":3.05},{"f":-3.65,"e":-2.125,"v":3.15},{"f":-3.4,"e":-2.125,"v":3.1},{"f":-3.15,"e":-2.125,"v":2.95},{"f":-2.9,"e":-2.125,"v":2.8},{"f":-2.65,"e":-2.125,"v":2.6},{"f":-2.4,"e":-2.125,"v":2.35},{"f":-2.15,"e":-2.125,"v":2.1},{"f":-1.9,"e":-2.125,"v":1.85},{"f":-1.65,"e":-2.125,"v":1.45},{"f":-1.4,"e":-2.125,"v":1.05},{"f":-1.15,"e":-2.125,"v":0.6},{"f":-0.9,"e":-2.125,"v":0.15},{"f":-0.65,"e":-2.125,"v":-0.3},{"f":-0.4,"e":-2.125,"v":-0.65},{"f":-0.15,"e":-2.125,"v":-1},
{"f":-4.15,"e":-2.375,"v":3.1},{"f":-3.9,"e":-2.375,"v":3.3},{"f":-3.65,"e":-2.375,"v":3.45},{"f":-3.4,"e":-2.375,"v":3.4},{"f":-3.15,"e":-2.375,"v":3.25},{"f":-2.9,"e":-2.375,"v":3.05},{"f":-2.65,"e":-2.375,"v":2.85},{"f":-2.4,"e":-2.375,"v":2.6},{"f":-2.15,"e":-2.375,"v":2.3},{"f":-1.9,"e":-2.375,"v":2},{"f":-1.65,"e":-2.375,"v":1.65},{"f":-1.4,"e":-2.375,"v":1.25},{"f":-1.15,"e":-2.375,"v":0.8},{"f":-0.9,"e":-2.375,"v":0.35},{"f":-0.65,"e":-2.375,"v":-0.1},{"f":-0.4,"e":-2.375,"v":-0.45},{"f":-0.15,"e":-2.375,"v":-0.8},
{"f":-4.4,"e":-2.625,"v":3},{"f":-4.15,"e":-2.625,"v":3.3},{"f":-3.9,"e":-2.625,"v":3.5},{"f":-3.65,"e":-2.625,"v":3.65},{"f":-3.4,"e":-2.625,"v":3.7},{"f":-3.15,"e":-2.625,"v":3.55},{"f":-2.9,"e":-2.625,"v":3.35},{"f":-2.65,"e":-2.625,"v":3.15},{"f":-2.4,"e":-2.625,"v":2.85},{"f":-2.15,"e":-2.625,"v":2.55},{"f":-1.9,"e":-2.625,"v":2.25},{"f":-1.65,"e":-2.625,"v":1.85},{"f":-1.4,"e":-2.625,"v":1.45},{"f":-1.15,"e":-2.625,"v":1},{"f":-0.9,"e":-2.625,"v":0.55},{"f":-0.65,"e":-2.625,"v":0.1},{"f":-0.4,"e":-2.625,"v":-0.25},{"f":-0.15,"e":-2.625,"v":-0.5},
{"f":-4.15,"e":-2.875,"v":3.3},{"f":-3.9,"e":-2.875,"v":3.6},{"f":-3.65,"e":-2.875,"v":3.8},{"f":-3.4,"e":-2.875,"v":3.85},{"f":-3.15,"e":-2.875,"v":3.75},{"f":-2.9,"e":-2.875,"v":3.6},{"f":-2.65,"e":-2.875,"v":3.4},{"f":-2.4,"e":-2.875,"v":3.1},{"f":-2.15,"e":-2.875,"v":2.8},{"f":-1.9,"e":-2.875,"v":2.5},{"f":-1.65,"e":-2.875,"v":2.1},{"f":-1.4,"e":-2.875,"v":1.65},{"f":-1.15,"e":-2.875,"v":1.2},{"f":-0.9,"e":-2.875,"v":0.75},{"f":-0.65,"e":-2.875,"v":0.35},{"f":-0.4,"e":-2.875,"v":0},{"f":-0.15,"e":-2.875,"v":-0.25},
{"f":-4.15,"e":-3.125,"v":3.6},{"f":-3.9,"e":-3.125,"v":3.75},{"f":-3.65,"e":-3.125,"v":3.9},{"f":-3.4,"e":-3.125,"v":4.05},{"f":-3.15,"e":-3.125,"v":4.1},{"f":-2.9,"e":-3.125,"v":3.9},{"f":-2.65,"e":-3.125,"v":3.7},{"f":-2.4,"e":-3.125,"v":3.45},{"f":-2.15,"e":-3.125,"v":3.1},{"f":-1.9,"e":-3.125,"v":2.75},{"f":-1.65,"e":-3.125,"v":2.35},{"f":-1.4,"e":-3.125,"v":1.9},{"f":-1.15,"e":-3.125,"v":1.45},{"f":-0.9,"e":-3.125,"v":1},{"f":-0.65,"e":-3.125,"v":0.6},{"f":-0.4,"e":-3.125,"v":0.3},{"f":-0.15,"e":-3.125,"v":0.05},
{"f":-4.15,"e":-3.375,"v":3.6},{"f":-3.9,"e":-3.375,"v":3.8},{"f":-3.65,"e":-3.375,"v":3.95},{"f":-3.4,"e":-3.375,"v":4.15},{"f":-3.15,"e":-3.375,"v":4.3},{"f":-2.9,"e":-3.375,"v":4.15},{"f":-2.65,"e":-3.375,"v":3.95},{"f":-2.4,"e":-3.375,"v":3.75},{"f":-2.15,"e":-3.375,"v":3.4},{"f":-1.9,"e":-3.375,"v":3},{"f":-1.65,"e":-3.375,"v":2.65},{"f":-1.4,"e":-3.375,"v":2.15},{"f":-1.15,"e":-3.375,"v":1.7},{"f":-0.9,"e":-3.375,"v":1.25},{"f":-0.65,"e":-3.375,"v":0.85},{"f":-0.4,"e":-3.375,"v":0.55},{"f":-0.15,"e":-3.375,"v":0.35},
{"f":-4.15,"e":-3.625,"v":3.7},{"f":-3.9,"e":-3.625,"v":3.85},{"f":-3.65,"e":-3.625,"v":4},{"f":-3.4,"e":-3.625,"v":4.25},{"f":-3.15,"e":-3.625,"v":4.4},{"f":-2.9,"e":-3.625,"v":4.4},{"f":-2.65,"e":-3.625,"v":4.25},{"f":-2.4,"e":-3.625,"v":4},{"f":-2.15,"e":-3.625,"v":3.7},{"f":-1.9,"e":-3.625,"v":3.3},{"f":-1.65,"e":-3.625,"v":2.95},{"f":-1.4,"e":-3.625,"v":2.5},{"f":-1.15,"e":-3.625,"v":2},{"f":-0.9,"e":-3.625,"v":1.55},{"f":-0.65,"e":-3.625,"v":1.15},{"f":-0.4,"e":-3.625,"v":0.85},{"f":-0.15,"e":-3.625,"v":0.7},
{"f":-3.9,"e":-3.875,"v":3.9},{"f":-3.65,"e":-3.875,"v":4},{"f":-3.4,"e":-3.875,"v":4.2},{"f":-3.15,"e":-3.875,"v":4.45},{"f":-2.9,"e":-3.875,"v":4.6},{"f":-2.65,"e":-3.875,"v":4.5},{"f":-2.4,"e":-3.875,"v":4.3},{"f":-2.15,"e":-3.875,"v":4.05},{"f":-1.9,"e":-3.875,"v":3.65},{"f":-1.65,"e":-3.875,"v":3.2},{"f":-1.4,"e":-3.875,"v":2.8},{"f":-1.15,"e":-3.875,"v":2.35},{"f":-0.9,"e":-3.875,"v":1.85},{"f":-0.65,"e":-3.875,"v":1.45},{"f":-0.4,"e":-3.875,"v":1.15},{"f":-0.15,"e":-3.875,"v":0.95},
{"f":-3.65,"e":-4.125,"v":3.9},{"f":-3.4,"e":-4.125,"v":4.3},{"f":-3.15,"e":-4.125,"v":4.5},{"f":-2.9,"e":-4.125,"v":4.7},{"f":-2.65,"e":-4.125,"v":4.7},{"f":-2.4,"e":-4.125,"v":4.55},{"f":-2.15,"e":-4.125,"v":4.3},{"f":-1.9,"e":-4.125,"v":3.95},{"f":-1.65,"e":-4.125,"v":3.55},{"f":-1.4,"e":-4.125,"v":3.15},{"f":-1.15,"e":-4.125,"v":2.65},{"f":-0.9,"e":-4.125,"v":2.2},{"f":-0.65,"e":-4.125,"v":1.75},{"f":-0.4,"e":-4.125,"v":1.45},{"f":-0.15,"e":-4.125,"v":1.25},
{"f":-3.4,"e":-4.375,"v":4.1},{"f":-3.15,"e":-4.375,"v":4.4},{"f":-2.9,"e":-4.375,"v":4.7},{"f":-2.65,"e":-4.375,"v":4.75},{"f":-2.4,"e":-4.375,"v":4.65},{"f":-2.15,"e":-4.375,"v":4.5},{"f":-1.9,"e":-4.375,"v":4.15},{"f":-1.65,"e":-4.375,"v":3.8},{"f":-1.4,"e":-4.375,"v":3.4},{"f":-1.15,"e":-4.375,"v":3},{"f":-0.9,"e":-4.375,"v":2.55},{"f":-0.65,"e":-4.375,"v":2.1},{"f":-0.4,"e":-4.375,"v":1.75},{"f":-0.15,"e":-4.375,"v":1.55},
{"f":-3.4,"e":-4.625,"v":3.9},{"f":-3.15,"e":-4.625,"v":4.3},{"f":-2.9,"e":-4.625,"v":4.6},{"f":-2.65,"e":-4.625,"v":4.75},{"f":-2.4,"e":-4.625,"v":4.75},{"f":-2.15,"e":-4.625,"v":4.6},{"f":-1.9,"e":-4.625,"v":4.25},{"f":-1.65,"e":-4.625,"v":4},{"f":-1.4,"e":-4.625,"v":3.65},{"f":-1.15,"e":-4.625,"v":3.25},{"f":-0.9,"e":-4.625,"v":2.8},{"f":-0.65,"e":-4.625,"v":2.4},{"f":-0.4,"e":-4.625,"v":2.05},{"f":-0.15,"e":-4.625,"v":1.85},
{"f":-3.15,"e":-4.875,"v":4.1},{"f":-2.9,"e":-4.875,"v":4.5},{"f":-2.65,"e":-4.875,"v":4.65},{"f":-2.4,"e":-4.875,"v":4.7},{"f":-2.15,"e":-4.875,"v":4.65},{"f":-1.9,"e":-4.875,"v":4.35},{"f":-1.65,"e":-4.875,"v":4.15},{"f":-1.4,"e":-4.875,"v":3.8},{"f":-1.15,"e":-4.875,"v":3.45},{"f":-0.9,"e":-4.875,"v":3.05},{"f":-0.65,"e":-4.875,"v":2.7},{"f":-0.4,"e":-4.875,"v":2.35},{"f":-0.15,"e":-4.875,"v":2.1},
{"f":-2.9,"e":-5.125,"v":4.2},{"f":-2.65,"e":-5.125,"v":4.5},{"f":-2.4,"e":-5.125,"v":4.6},{"f":-2.15,"e":-5.125,"v":4.6},{"f":-1.9,"e":-5.125,"v":4.3},{"f":-1.65,"e":-5.125,"v":4.1},{"f":-1.4,"e":-5.125,"v":3.9},{"f":-1.15,"e":-5.125,"v":3.55},{"f":-0.9,"e":-5.125,"v":3.2},{"f":-0.65,"e":-5.125,"v":2.85},{"f":-0.4,"e":-5.125,"v":2.6},{"f":-0.15,"e":-5.125,"v":2.3},
{"f":-2.9,"e":-5.375,"v":4},{"f":-2.65,"e":-5.375,"v":4.35},{"f":-2.4,"e":-5.375,"v":4.45},{"f":-2.15,"e":-5.375,"v":4.5},{"f":-1.9,"e":-5.375,"v":4.2},{"f":-1.65,"e":-5.375,"v":4.05},{"f":-1.4,"e":-5.375,"v":3.85},{"f":-1.15,"e":-5.375,"v":3.65},{"f":-0.9,"e":-5.375,"v":3.25},{"f":-0.65,"e":-5.375,"v":3},{"f":-0.4,"e":-5.375,"v":2.7},{"f":-0.15,"e":-5.375,"v":2.45},
{"f":-2.65,"e":-5.625,"v":3.9},{"f":-2.4,"e":-5.625,"v":4.1},{"f":-2.15,"e":-5.625,"v":4.2},{"f":-1.9,"e":-5.625,"v":4.1},{"f":-1.65,"e":-5.625,"v":3.95},{"f":-1.4,"e":-5.625,"v":3.75},{"f":-1.15,"e":-5.625,"v":3.55},{"f":-0.9,"e":-5.625,"v":3.2},{"f":-0.65,"e":-5.625,"v":2.9},{"f":-0.4,"e":-5.625,"v":2.6},{"f":-0.15,"e":-5.625,"v":1.9},
{"f":-2.4,"e":-5.875,"v":3.9},{"f":-2.15,"e":-5.875,"v":3.9},{"f":-1.9,"e":-5.875,"v":3.9},{"f":-1.65,"e":-5.875,"v":3.8},{"f":-1.4,"e":-5.875,"v":3.5},{"f":-1.15,"e":-5.875,"v":3.25},{"f":-0.9,"e":-5.875,"v":3},{"f":-0.65,"e":-5.875,"v":2.65},{"f":-0.4,"e":-5.875,"v":2.3},{"f":-0.15,"e":-5.875,"v":1.9},
{"f":-1.9,"e":-6.125,"v":3.8},{"f":-1.65,"e":-6.125,"v":3.7},{"f":-1.4,"e":-6.125,"v":3.4},{"f":-1.15,"e":-6.125,"v":3},{"f":-0.9,"e":-6.125,"v":2.9},{"f":-0.65,"e":-6.125,"v":2.7},{"f":-0.4,"e":-6.125,"v":2.5},
{"f":-1.65,"e":-6.375,"v":3.7},{"f":-1.4,"e":-6.375,"v":3.6},{"f":-1.15,"e":-6.375,"v":3.4},{"f":-0.9,"e":-6.375,"v":3.1},{"f":-0.65,"e":-6.375,"v":2.9},
{"f":-1.4,"e":-6.625,"v":3.8},{"f":-1.15,"e":-6.625,"v":3.8},{"f":-0.4,"e":-6.625,"v":2.9}
]},
"mark":{"type":"rect","width":23,"height":14.2,"clip":true},
"encoding":{
"x":{"field":"f","type":"quantitative","scale":{"domain":[-4.765,-0.05],"nice":false,"zero":false},"axis":{"values":[-4,-3,-2,-1],"grid":true,"zindex":1,"gridColor":"#333","title":"𝐹","titleY":51,"labelExpr":"'10' + (datum.value<0?'⁻':'') + ['⁰','¹','²','³','⁴','⁵','⁶','⁷','⁸','⁹','¹⁰'][abs(datum.value)]"}},
"y":{"field":"e","type":"quantitative","scale":{"domain":[-7,0],"nice":false,"zero":false},"axis":{"values":[-7,-6,-5,-4,-3,-2,-1,0],"grid":true,"zindex":1,"gridColor":"#333","title":"𝜂","titleX":-77,"labelExpr":"'10' + (datum.value<0?'⁻':'') + ['⁰','¹','²','³','⁴','⁵','⁶','⁷','⁸','⁹','¹⁰'][abs(datum.value)]"}},
"color":{"field":"v","type":"quantitative","scale":{"domain":[-1.85,4.75],"range":["#30123b","#4145ab","#4675ed","#39a2fc","#1bcfd4","#24eca6","#61fc6c","#a4fc3b","#d1e834","#f3c63a","#fe9b2d","#f36315","#d93806","#b11901","#7a0402"]},"legend":{"title":"log₁₀𝜌","titleFont":"Liberation Serif","titleFontSize":10,"titleFontWeight":"normal","titlePadding":1,"titleLimit":200,"orient":"none","legendX":435,"legendY":-13,"padding":0,"fillColor":"transparent","strokeColor":"transparent","gradientLength":391,"gradientThickness":20,"gradientStrokeColor":"#111","gradientStrokeWidth":0.8,"values":[-1,0,1,2,3,4],"labelFont":"Liberation Serif","labelFontSize":12.5,"labelOffset":10,"labelExpr":"replace(format(datum.value,'.1f'),'−','-')"}}
}},
{"data":{"values":[{"f":-2,"e":-3}]},"mark":{"type":"point","opacity":0},"encoding":{
"x":{"field":"f","type":"quantitative","axis":{"values":[-4.7,-4.52,-4.4,-4.3,-4.22,-4.15,-4.1,-4.05,-3.7,-3.52,-3.4,-3.3,-3.22,-3.15,-3.1,-3.05,-2.7,-2.52,-2.4,-2.3,-2.22,-2.15,-2.1,-2.05,-1.7,-1.52,-1.4,-1.3,-1.22,-1.15,-1.1,-1.05,-0.7,-0.52,-0.4,-0.3,-0.22,-0.15,-0.1],"labels":false,"grid":false,"title":null,"tickSize":2.5,"tickWidth":0.7}},
"y":{"field":"e","type":"quantitative","axis":{"values":[-6.7,-6.52,-6.4,-6.3,-6.22,-6.15,-6.1,-6.05,-5.7,-5.52,-5.4,-5.3,-5.22,-5.15,-5.1,-5.05,-4.7,-4.52,-4.4,-4.3,-4.22,-4.15,-4.1,-4.05,-3.7,-3.52,-3.4,-3.3,-3.22,-3.15,-3.1,-3.05,-2.7,-2.52,-2.4,-2.3,-2.22,-2.15,-2.1,-2.05,-1.7,-1.52,-1.4,-1.3,-1.22,-1.15,-1.1,-1.05,-0.7,-0.52,-0.4,-0.3,-0.22,-0.15,-0.1,-0.05],"labels":false,"grid":false,"title":null,"tickSize":2.5,"tickWidth":0.7}}
}}
]}
]}
]
}
